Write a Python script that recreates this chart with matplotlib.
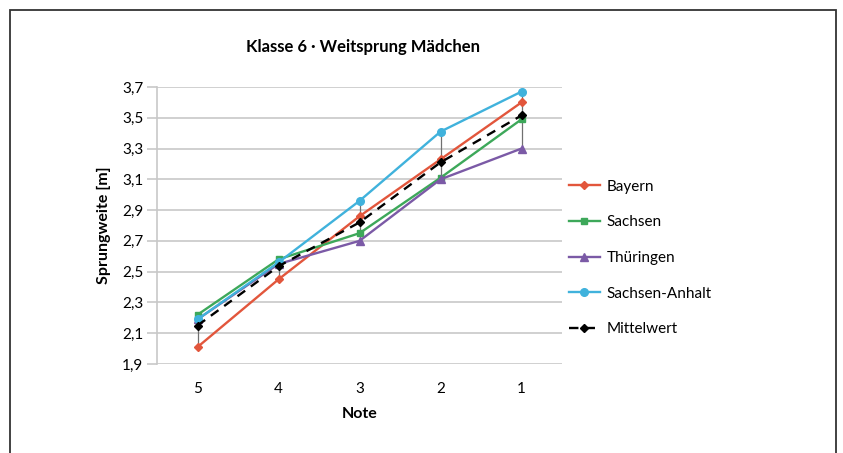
import numpy as np
import matplotlib.pyplot as plt
from matplotlib.patches import Rectangle

plt.rcParams['font.family'] = ['Lato', 'DejaVu Sans']

noten = ['5', '4', '3', '2', '1']
bayern = [2.01, 2.45, 2.86, 3.23, 3.60]
sachsen = [2.22, 2.58, 2.75, 3.11, 3.49]
thueringen = [2.19, 2.55, 2.70, 3.10, 3.30]
sachsen_anhalt = [2.19, 2.56, 2.96, 3.41, 3.67]
mittelwert = [2.15, 2.535, 2.82, 3.21, 3.515]
y_ticks = [1.9, 2.1, 2.3, 2.5, 2.7, 2.9, 3.1, 3.3, 3.5, 3.7]

serien = [
  ('Bayern', bayern, '#e2563c', 'D', 4, '-'),
  ('Sachsen', sachsen, '#3da85a', 's', 5, '-'),
  ('Thüringen', thueringen, '#7b5aa6', '^', 5.5, '-'),
  ('Sachsen-Anhalt', sachsen_anhalt, '#40b2dc', 'o', 5.5, '-'),
  ('Mittelwert', mittelwert, 'black', 'D', 4.5, (0, (4, 3))),
]

fig = plt.figure(figsize=(8.43, 4.53), dpi=100)
ax = fig.add_axes([157/843, 1-364/453, (562-157)/843, (364-87)/453])

x = np.arange(len(noten))

# high-low linien zwischen min und max
alle = np.array([bayern, sachsen, thueringen, sachsen_anhalt, mittelwert])
ax.vlines(x, alle.min(axis=0), alle.max(axis=0), color='#707070', linewidth=0.9, zorder=2)

for name, werte, farbe, marker, ms, ls in serien:
  ax.plot(x, werte, color=farbe, marker=marker, markersize=ms, linewidth=1.7,
          linestyle=ls, label=name, zorder=3)

ax.set_xlim(-0.5, len(noten)-0.5)
ax.set_ylim(1.9, 3.7)
ax.set_yticks(y_ticks)
ax.set_yticklabels([('%.1f' % v).replace('.', ',') for v in y_ticks], fontsize=11)
ax.set_xticks(x)
ax.set_xticklabels(noten, fontsize=11)
ax.tick_params(axis='y', length=7, color='#c8c8c8', width=1.2, pad=3)
ax.tick_params(axis='x', length=0, pad=13)
ax.grid(axis='y', color='#c8c8c8', linewidth=1.2)
ax.set_axisbelow(True)
for s in ['top', 'right', 'bottom']:
  ax.spines[s].set_visible(False)
ax.spines['left'].set_color('#c8c8c8')
ax.spines['left'].set_linewidth(1.2)

ax.set_xlabel('Note', fontsize=11.5, fontweight='bold', labelpad=8)
ax.set_ylabel('Sprungweite [m]', fontsize=11.5, fontweight='bold', labelpad=8)
fig.text(363/843, 1-47/453, 'Klasse 6 · Weitsprung Mädchen', ha='center', va='center',
         fontsize=12, fontweight='bold')

fig.legend(loc='center left', bbox_to_anchor=(569/843, 1-258/453), frameon=False,
           fontsize=11, handlelength=2.0, labelspacing=1.42, handletextpad=0.45,
           borderaxespad=0, borderpad=0)

# rahmen um das diagramm (unten abgeschnitten)
fig.patches.append(Rectangle((10/843, -0.05), 826/843, 1.05-10/453, transform=fig.transFigure,
                             fill=False, edgecolor='#333333', linewidth=1.3))

fig.savefig('out.png', dpi=100)
